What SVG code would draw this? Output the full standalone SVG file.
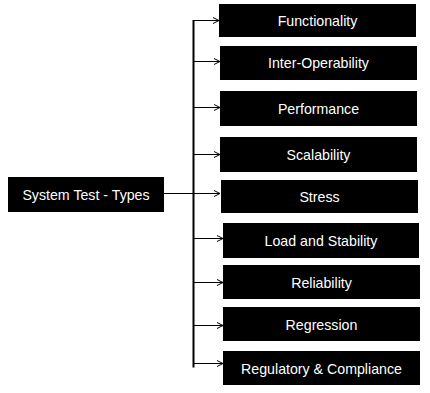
<svg xmlns="http://www.w3.org/2000/svg" width="430" height="393" viewBox="0 0 430 393">
<style>
.box{fill:#000}
.lbl{fill:#fff;font-family:"Liberation Sans",Arial,sans-serif;font-size:14.2px;text-anchor:middle}
.ln{stroke:#000;stroke-width:1;fill:none}
</style>
<defs>
<marker id="ah" markerWidth="8" markerHeight="8" refX="7" refY="4" orient="auto" markerUnits="userSpaceOnUse">
<polyline points="1,1 7,4 1,7" fill="none" stroke="#000" stroke-width="1"/>
</marker>
</defs>
<rect width="430" height="393" fill="#fff"/>
<g id="connectors">
<line x1="193.5" y1="20" x2="193.5" y2="367.5" stroke="#000" stroke-width="2"/>
<line class="ln" x1="164" y1="193.5" x2="220" y2="193.5" marker-end="url(#ah)"/>
<line class="ln" x1="193" y1="20.5" x2="219" y2="20.5" marker-end="url(#ah)"/>
<line class="ln" x1="193" y1="61.5" x2="220" y2="61.5" marker-end="url(#ah)"/>
<line class="ln" x1="193" y1="107.5" x2="220" y2="107.5" marker-end="url(#ah)"/>
<line class="ln" x1="193" y1="154.5" x2="220" y2="154.5" marker-end="url(#ah)"/>
<line class="ln" x1="193" y1="238.5" x2="223" y2="238.5" marker-end="url(#ah)"/>
<line class="ln" x1="193" y1="282.5" x2="223" y2="282.5" marker-end="url(#ah)"/>
<line class="ln" x1="193" y1="325.5" x2="223" y2="325.5" marker-end="url(#ah)"/>
<line class="ln" x1="193" y1="363.5" x2="223" y2="363.5" marker-end="url(#ah)"/>
</g>
<g id="root"><rect class="box" x="8" y="177" width="156" height="35"/><text class="lbl" x="86" y="199.5">System Test - Types</text></g>
<g id="n1"><rect class="box" x="219" y="4" width="197" height="33"/><text class="lbl" x="317.5" y="26">Functionality</text></g>
<g id="n2"><rect class="box" x="220" y="46" width="197" height="34"/><text class="lbl" x="318.5" y="68">Inter-Operability</text></g>
<g id="n3"><rect class="box" x="220" y="91" width="197" height="35"/><text class="lbl" x="318.5" y="113.5">Performance</text></g>
<g id="n4"><rect class="box" x="220" y="137" width="197" height="35"/><text class="lbl" x="318.5" y="159.5">Scalability</text></g>
<g id="n5"><rect class="box" x="221" y="180" width="197" height="33"/><text class="lbl" x="319.5" y="202">Stress</text></g>
<g id="n6"><rect class="box" x="223" y="223" width="196" height="35"/><text class="lbl" x="321" y="245.5">Load and Stability</text></g>
<g id="n7"><rect class="box" x="223" y="265" width="197" height="34"/><text class="lbl" x="321.5" y="287.5">Reliability</text></g>
<g id="n8"><rect class="box" x="223" y="307" width="197" height="34"/><text class="lbl" x="321.5" y="329.5">Regression</text></g>
<g id="n9"><rect class="box" x="223" y="351" width="197" height="34"/><text class="lbl" x="321.5" y="373.5">Regulatory &amp; Compliance</text></g>
</svg>
